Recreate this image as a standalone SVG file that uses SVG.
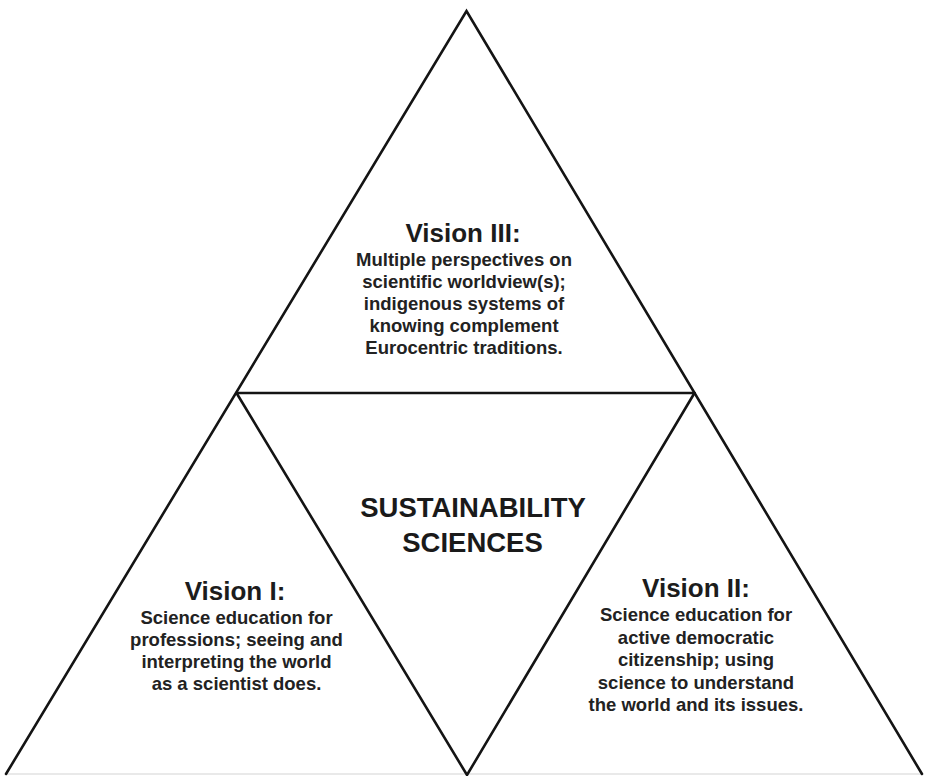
<svg xmlns="http://www.w3.org/2000/svg" width="925" height="776" viewBox="0 0 925 776">
<style>
.edge{stroke:#141414;stroke-width:2.6;fill:none;stroke-linejoin:miter;stroke-linecap:round}
.title{font-family:"Liberation Sans",Arial,sans-serif;font-weight:bold;font-size:26px;fill:#1c1c1c;text-anchor:middle}
.body{font-family:"Liberation Sans",Arial,sans-serif;font-weight:bold;font-size:18.5px;fill:#222;text-anchor:middle}
.center{font-family:"Liberation Sans",Arial,sans-serif;font-weight:bold;font-size:27.5px;fill:#1a1a1a;text-anchor:middle}
</style>
<rect width="925" height="776" fill="#ffffff"/>
<g id="connectors">
<line x1="6" y1="774" x2="922" y2="774" stroke="#d4d4d4" stroke-width="1.2"/>
<polyline class="edge" points="6,774 466.5,11 922,774"/>
<polyline class="edge" points="236.5,393 467,775 694.5,393"/>
<line class="edge" x1="236.5" y1="393" x2="694.5" y2="393" stroke-width="3"/>
</g>
<g id="vision3">
<text class="title" x="463" y="242">Vision III:</text>
<text class="body" x="464" y="266">Multiple perspectives on</text>
<text class="body" x="464" y="288">scientific worldview(s);</text>
<text class="body" x="464" y="310">indigenous systems of</text>
<text class="body" x="464" y="332">knowing complement</text>
<text class="body" x="464" y="354">Eurocentric traditions.</text>
</g>
<g id="center">
<text class="center" x="473" y="517">SUSTAINABILITY</text>
<text class="center" x="472.5" y="552">SCIENCES</text>
</g>
<g id="vision1">
<text class="title" x="235" y="600">Vision I:</text>
<text class="body" x="236.5" y="624">Science education for</text>
<text class="body" x="236.5" y="646">professions; seeing and</text>
<text class="body" x="236.5" y="668">interpreting the world</text>
<text class="body" x="236.5" y="690">as a scientist does.</text>
</g>
<g id="vision2">
<text class="title" x="696" y="597">Vision II:</text>
<text class="body" x="696" y="621">Science education for</text>
<text class="body" x="696" y="643.5">active democratic</text>
<text class="body" x="696" y="666">citizenship; using</text>
<text class="body" x="696" y="688.5">science to understand</text>
<text class="body" x="696" y="711">the world and its issues.</text>
</g>
</svg>
